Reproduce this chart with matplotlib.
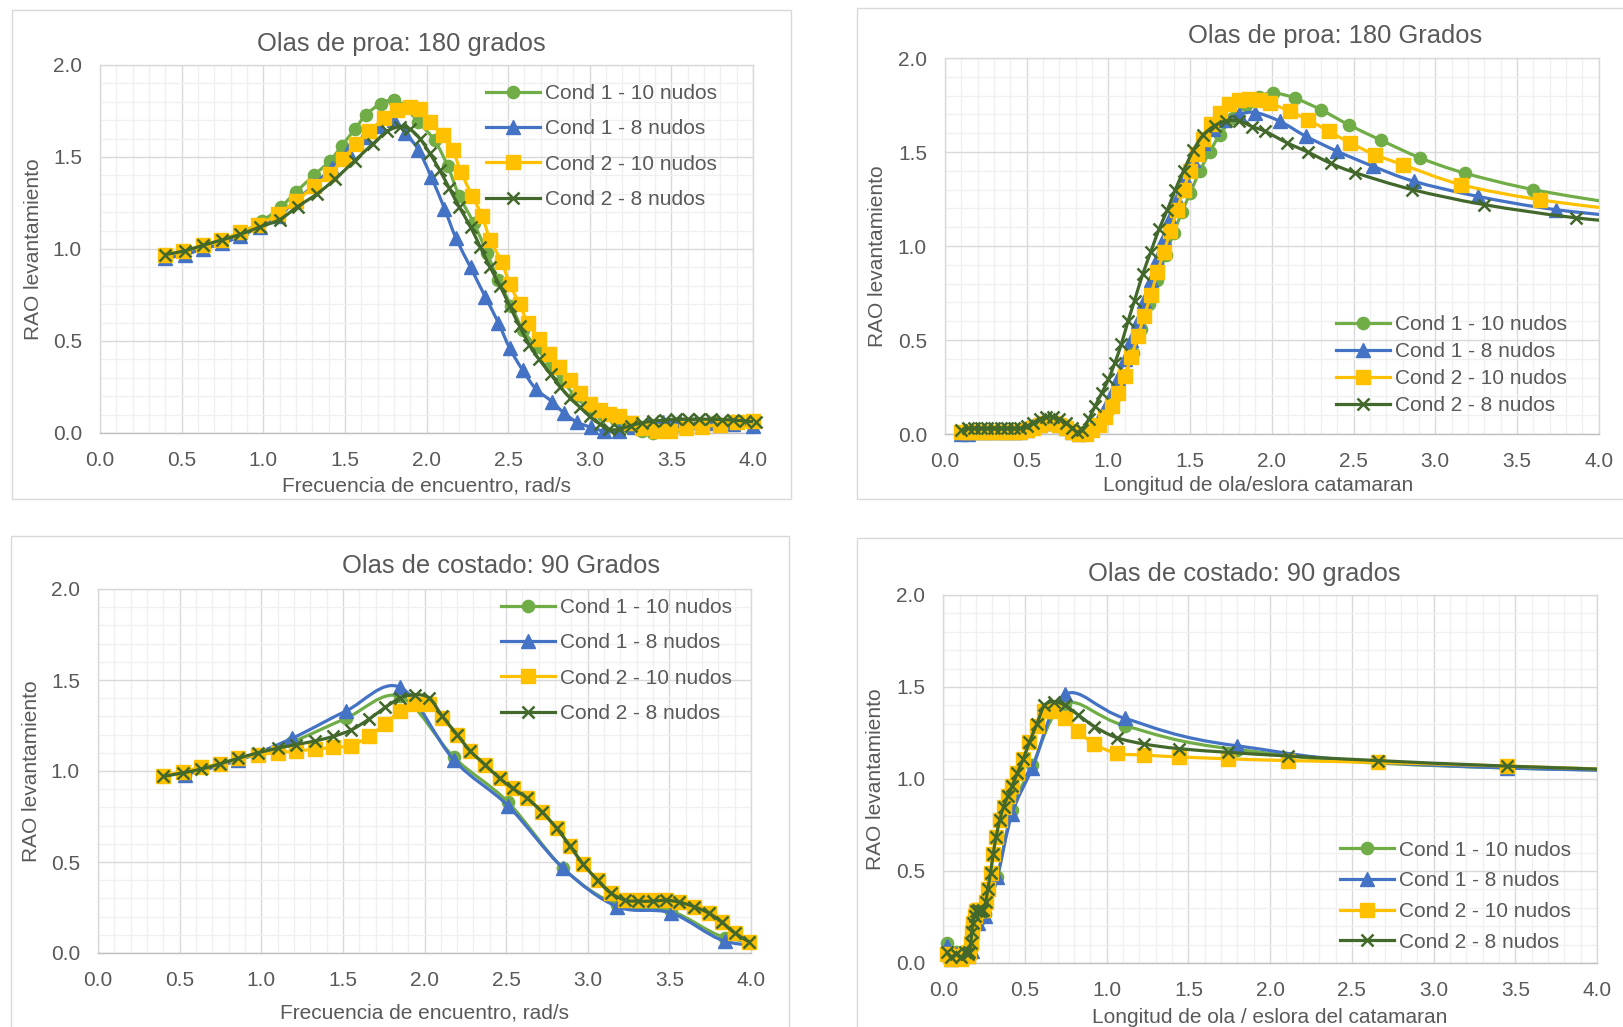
import numpy as np
import matplotlib
matplotlib.use("Agg")
import matplotlib.pyplot as plt
from matplotlib.path import Path
from matplotlib.patches import PathPatch, Rectangle
from matplotlib.lines import Line2D
from matplotlib.ticker import MultipleLocator, FormatStrFormatter

plt.rcParams['font.family'] = ['Liberation Sans', 'DejaVu Sans']

W, H = 1623, 1027

# ---------------- labels ----------------
series_labels = ["Cond 1 - 10 nudos", "Cond 1 - 8 nudos", "Cond 2 - 10 nudos", "Cond 2 - 8 nudos"]
series_colors = ["#70AD47", "#4472C4", "#FFC000", "#43682B"]
series_markers = ["o", "^", "s", "x"]
series_msize = [8.8, 9.5, 9.4, 8.4]

titles = ["Olas de proa: 180 grados", "Olas de proa: 180 Grados",
          "Olas de costado: 90 Grados", "Olas de costado: 90 grados"]
xlabels = ["Frecuencia de encuentro, rad/s", "Longitud de ola/eslora catamaran",
           "Frecuencia de encuentro, rad/s", "Longitud de ola / eslora del catamaran"]
ylabel_text = "RAO levantamiento"

# ---------------- Panel 1: head seas vs encounter frequency ----------------
p1_g_x = [0.40,0.52,0.64,0.75,0.87,0.99,1.11,1.20,1.31,1.41,1.48,1.56,1.63,1.72,1.80,1.87,1.95,2.05,2.13,2.20,
          2.29,2.37,2.44,2.52,2.59,2.67,2.76,2.83,2.91,3.00,3.08,3.16,3.24,3.32,3.39,3.47,3.56,3.66,3.76,3.88,4.00]
p1_g_y = [0.97,0.99,1.02,1.05,1.09,1.15,1.23,1.31,1.40,1.48,1.56,1.65,1.73,1.79,1.81,1.77,1.69,1.59,1.45,1.29,
          1.14,0.98,0.83,0.69,0.56,0.47,0.36,0.29,0.20,0.13,0.10,0.07,0.035,0.01,0.00,0.015,0.04,0.055,0.06,0.065,0.065]
p1_b_x = [0.40,0.52,0.63,0.75,0.86,0.98,1.09,1.20,1.31,1.42,1.52,1.62,1.71,1.80,1.87,1.95,2.03,2.11,2.18,2.27,
          2.36,2.44,2.51,2.59,2.67,2.77,2.84,2.92,3.01,3.09,3.18,3.27,3.36,3.45,3.55,3.65,3.76,3.88,4.00]
p1_b_y = [0.95,0.97,1.00,1.03,1.07,1.12,1.18,1.26,1.35,1.44,1.53,1.61,1.67,1.70,1.63,1.54,1.39,1.22,1.06,0.90,
          0.74,0.60,0.46,0.34,0.24,0.17,0.11,0.06,0.03,0.01,0.01,0.03,0.05,0.06,0.06,0.06,0.055,0.05,0.04]
p1_y_x = [0.40,0.51,0.63,0.74,0.86,0.97,1.09,1.20,1.31,1.41,1.49,1.57,1.65,1.74,1.82,1.90,1.96,2.02,2.10,2.16,
          2.21,2.28,2.34,2.39,2.46,2.51,2.57,2.62,2.69,2.75,2.81,2.88,2.94,3.00,3.06,3.12,3.18,3.25,3.32,3.41,
          3.49,3.59,3.69,3.80,3.90,4.00]
p1_y_y = [0.97,0.99,1.02,1.05,1.09,1.13,1.19,1.26,1.34,1.41,1.49,1.57,1.64,1.71,1.755,1.77,1.76,1.69,1.62,1.54,
          1.42,1.29,1.18,1.05,0.93,0.81,0.70,0.60,0.51,0.43,0.36,0.29,0.22,0.16,0.125,0.105,0.09,0.055,0.025,0.01,
          0.01,0.025,0.035,0.045,0.06,0.065]
p1_d_x = [0.40,0.52,0.63,0.75,0.86,0.98,1.10,1.21,1.33,1.44,1.56,1.67,1.76,1.84,1.90,1.96,2.02,2.08,2.14,2.20,
          2.27,2.33,2.39,2.45,2.51,2.57,2.63,2.69,2.76,2.82,2.88,2.94,3.00,3.06,3.12,3.18,3.25,3.32,3.39,3.46,
          3.53,3.60,3.67,3.74,3.81,3.88,3.95,4.02]
p1_d_y = [0.97,0.99,1.02,1.05,1.08,1.12,1.16,1.23,1.30,1.38,1.48,1.57,1.64,1.665,1.65,1.60,1.52,1.43,1.33,1.23,
          1.12,1.01,0.90,0.80,0.69,0.58,0.48,0.40,0.32,0.25,0.19,0.14,0.09,0.05,0.02,0.02,0.04,0.055,0.065,0.07,
          0.075,0.075,0.075,0.075,0.073,0.07,0.065,0.06]

# ---------------- Panel 2: head seas vs wavelength / length ----------------
p2_g_x = [0.10,0.14,0.18,0.22,0.26,0.30,0.34,0.38,0.42,0.46,0.50,0.54,0.58,0.62,0.66,0.70,0.74,0.78,
          0.82,0.86,0.90,0.95,1.00,1.05,1.10,1.15,1.20,1.25,1.30,1.35,1.40,1.45,1.50,1.56,1.62,1.68,1.76,1.84,
          1.92,2.01,2.14,2.30,2.47,2.67,2.91,3.18,3.60,4.15]
p2_g_y = [0.00,0.01,0.01,0.01,0.01,0.01,0.01,0.01,0.01,0.01,0.02,0.04,0.06,0.07,0.07,0.06,0.04,0.02,
          0.00,0.00,0.02,0.06,0.13,0.21,0.31,0.43,0.56,0.69,0.82,0.95,1.07,1.18,1.28,1.40,1.50,1.59,1.68,1.75,
          1.795,1.814,1.787,1.725,1.645,1.562,1.468,1.388,1.30,1.22]
p2_b_x = [0.10,0.14,0.18,0.22,0.26,0.30,0.34,0.38,0.42,0.46,0.50,0.54,0.58,0.62,0.66,0.70,0.74,0.78,
          0.82,0.86,0.90,0.94,0.98,1.02,1.06,1.10,1.14,1.18,1.22,1.26,1.30,1.34,1.38,1.42,1.47,1.52,1.58,1.64,
          1.71,1.80,1.90,2.05,2.21,2.40,2.62,2.87,3.26,3.74,4.35]
p2_b_y = [0.00,0.00,0.01,0.01,0.01,0.01,0.01,0.01,0.01,0.01,0.02,0.04,0.05,0.06,0.06,0.05,0.03,0.01,
          0.00,0.01,0.04,0.08,0.14,0.22,0.30,0.40,0.50,0.60,0.71,0.82,0.93,1.04,1.15,1.25,1.36,1.46,1.55,1.62,
          1.67,1.70,1.71,1.663,1.583,1.504,1.424,1.344,1.264,1.193,1.14]
p2_y_x = [0.10,0.14,0.18,0.22,0.26,0.30,0.34,0.38,0.42,0.46,0.50,0.54,0.58,0.62,0.66,0.70,0.74,0.78,
          0.82,0.86,0.90,0.94,0.98,1.02,1.06,1.10,1.14,1.18,1.22,1.26,1.30,1.34,1.38,1.42,1.46,1.50,1.54,1.58,
          1.63,1.68,1.74,1.80,1.86,1.93,1.99,2.11,2.22,2.35,2.48,2.63,2.80,3.16,3.64,4.25]
p2_y_y = [0.01,0.01,0.01,0.01,0.01,0.01,0.01,0.01,0.01,0.01,0.02,0.03,0.05,0.06,0.06,0.05,0.03,0.01,
          0.00,0.00,0.02,0.05,0.09,0.15,0.22,0.31,0.41,0.52,0.63,0.74,0.86,0.97,1.08,1.19,1.30,1.40,1.49,1.57,
          1.65,1.71,1.755,1.775,1.78,1.775,1.76,1.716,1.672,1.61,1.548,1.486,1.433,1.326,1.246,1.18]
p2_d_x = [0.10,0.14,0.18,0.22,0.26,0.30,0.34,0.38,0.42,0.46,0.50,0.54,0.58,0.62,0.66,0.70,0.74,0.78,
          0.81,0.84,0.88,0.92,0.96,1.00,1.04,1.08,1.12,1.16,1.21,1.26,1.31,1.36,1.41,1.46,1.52,1.58,1.65,1.72,
          1.80,1.88,1.96,2.09,2.22,2.36,2.51,2.86,3.30,3.86,4.50]
p2_d_y = [0.02,0.03,0.03,0.03,0.03,0.03,0.03,0.03,0.03,0.03,0.04,0.06,0.08,0.09,0.09,0.08,0.06,0.03,
          0.01,0.02,0.08,0.15,0.22,0.29,0.38,0.48,0.60,0.71,0.85,0.97,1.09,1.19,1.30,1.40,1.51,1.59,1.64,1.665,
          1.665,1.635,1.61,1.55,1.50,1.44,1.39,1.30,1.22,1.15,1.10]

# ---------------- Panel 3: beam seas vs frequency ----------------
p3_c1_x = [0.53,0.86,1.19,1.52,1.85,2.18,2.51,2.85,3.18,3.51,3.84,4.17]
p3_g_y = [0.98,1.06,1.16,1.29,1.41,1.075,0.83,0.465,0.265,0.23,0.085,0.06]
p3_b_y = [0.98,1.06,1.18,1.33,1.46,1.06,0.81,0.465,0.255,0.22,0.065,0.04]
p3_c2_x = [0.40,0.52,0.63,0.75,0.86,0.98,1.10,1.21,1.33,1.44,1.55,1.66,1.76,1.85,1.94,2.03,2.11,2.20,2.28,2.37,
           2.46,2.54,2.63,2.72,2.81,2.89,2.97,3.06,3.14,3.23,3.31,3.40,3.48,3.56,3.65,3.74,3.82,3.90,3.99]
p3_y_y = [0.975,0.995,1.02,1.04,1.07,1.09,1.10,1.11,1.12,1.13,1.14,1.19,1.26,1.33,1.37,1.37,1.29,1.20,1.11,1.035,
          0.96,0.905,0.85,0.775,0.685,0.59,0.49,0.40,0.33,0.29,0.29,0.29,0.29,0.28,0.255,0.22,0.17,0.11,0.06]
p3_d_y = [0.97,0.99,1.01,1.04,1.07,1.10,1.125,1.145,1.165,1.19,1.225,1.285,1.35,1.40,1.42,1.40,1.30,1.20,1.11,1.035,
          0.96,0.905,0.85,0.775,0.685,0.59,0.49,0.40,0.33,0.29,0.285,0.285,0.29,0.28,0.255,0.22,0.17,0.11,0.06]

# ---------------- Panel 4: beam seas vs wavelength / length ----------------
p4_c1_x = [0.02,0.05,0.08,0.11,0.15,0.175,0.21,0.255,0.33,0.42,0.545,0.745,1.11,1.80,3.45,9.10]
p4_g_y = [0.11,0.03,0.06,0.04,0.06,0.085,0.23,0.265,0.465,0.83,1.075,1.41,1.29,1.16,1.06,0.98]
p4_b_y = [0.09,0.02,0.05,0.03,0.04,0.065,0.22,0.255,0.465,0.81,1.06,1.46,1.33,1.18,1.06,0.98]
p4_c2_x = [0.02,0.05,0.08,0.11,0.135,0.150,0.160,0.168,0.175,0.182,0.191,0.201,0.211,0.221,0.233,0.244,0.259,
           0.272,0.289,0.305,0.323,0.345,0.369,0.395,0.421,0.454,0.490,0.527,0.573,0.619,0.678,0.745,0.823,
           0.925,1.06,1.23,1.44,1.74,2.11,2.66,3.45,4.53]
p4_y_y = [0.05,0.02,0.04,0.02,0.05,0.04,0.06,0.11,0.17,0.22,0.255,0.28,0.29,0.29,0.29,0.29,0.33,
          0.40,0.49,0.59,0.685,0.775,0.85,0.905,0.96,1.035,1.11,1.20,1.29,1.37,1.37,1.33,1.26,
          1.19,1.14,1.13,1.12,1.11,1.10,1.09,1.07,1.04]
p4_d_y = [0.06,0.03,0.05,0.03,0.06,0.05,0.06,0.11,0.17,0.22,0.255,0.28,0.29,0.285,0.285,0.29,0.33,
          0.40,0.49,0.59,0.685,0.775,0.85,0.905,0.96,1.035,1.11,1.20,1.30,1.40,1.42,1.40,1.35,
          1.285,1.225,1.19,1.165,1.145,1.125,1.10,1.07,1.04]

panels = [
    [(p1_g_x, p1_g_y), (p1_b_x, p1_b_y), (p1_y_x, p1_y_y), (p1_d_x, p1_d_y)],
    [(p2_g_x, p2_g_y), (p2_b_x, p2_b_y), (p2_y_x, p2_y_y), (p2_d_x, p2_d_y)],
    [(p3_c1_x, p3_g_y), (p3_c1_x, p3_b_y), (p3_c2_x, p3_y_y), (p3_c2_x, p3_d_y)],
    [(p4_c1_x, p4_g_y), (p4_c1_x, p4_b_y), (p4_c2_x, p4_y_y), (p4_c2_x, p4_d_y)],
]

# ---------------- layout (pixel positions) ----------------
layout = [
    dict(ax=(100, 65, 753, 433), frame=(12, 10, 791, 499), title=(401, 43.5),
         xl=(0.5, -0.143), yl=(-0.1026, 0.5), leg=(486, 146.5), lsp=0.79),
    dict(ax=(945, 58, 1598.6, 434), frame=(857, 8, 1630, 499), title=(1335, 36),
         xl=(0.479, -0.138), yl=(-0.103, 0.473), leg=(1336, 365), lsp=0.38),
    dict(ax=(98, 589, 751, 953), frame=(10.5, 536, 789, 1035), title=(500.5, 566),
         xl=(0.5, -0.164), yl=(-0.1026, 0.5), leg=(501, 660.5), lsp=0.79),
    dict(ax=(943.3, 595, 1597, 963), frame=(857, 538, 1630, 1035), title=(1244.5, 574.5),
         xl=(0.5, -0.148), yl=(-0.1034, 0.5), leg=(1340, 896), lsp=0.56),
]

TXT = "#595959"


def smooth_path(x, y):
    P = np.column_stack([np.asarray(x, float), np.asarray(y, float)])
    n = len(P)
    verts = [P[0]]
    codes = [Path.MOVETO]
    for i in range(n - 1):
        p0 = P[i - 1] if i > 0 else P[i]
        p1 = P[i]
        p2 = P[i + 1]
        p3 = P[i + 2] if i + 2 < n else P[i + 1]
        verts += [p1 + (p2 - p0) / 6.0, p2 - (p3 - p1) / 6.0, p2]
        codes += [Path.CURVE4] * 3
    return Path(verts, codes)


fig = plt.figure(figsize=(W / 100, H / 100), dpi=100)

for k, (lay, data) in enumerate(zip(layout, panels)):
    fl, ft, fr, fb = lay["frame"]
    fig.add_artist(Rectangle((fl / W, 1 - fb / H), (fr - fl) / W, (fb - ft) / H,
                             transform=fig.transFigure, fill=False, ec="#D9D9D9", lw=1.0))
    l, t, r, b = lay["ax"]
    ax = fig.add_axes([l / W, 1 - b / H, (r - l) / W, (b - t) / H])
    ax.set_xlim(0, 4)
    ax.set_ylim(0, 2)
    ax.xaxis.set_major_locator(MultipleLocator(0.5))
    ax.xaxis.set_minor_locator(MultipleLocator(0.1))
    ax.yaxis.set_major_locator(MultipleLocator(0.5))
    ax.yaxis.set_minor_locator(MultipleLocator(0.1))
    ax.xaxis.set_major_formatter(FormatStrFormatter("%.1f"))
    ax.yaxis.set_major_formatter(FormatStrFormatter("%.1f"))
    ax.grid(which="minor", color="#F0F0F0", lw=1.0)
    ax.grid(which="major", color="#D9D9D9", lw=1.0)
    ax.set_axisbelow(True)
    ax.tick_params(which="both", length=0)
    ax.tick_params(axis="x", labelsize=15, labelcolor=TXT, pad=13)
    ax.tick_params(axis="y", labelsize=15, labelcolor=TXT, pad=13)
    for s in ax.spines.values():
        s.set_color("#D9D9D9")
        s.set_linewidth(1.0)
    ax.spines["bottom"].set_color("#BFBFBF")

    handles = []
    for j, (xs, ys) in enumerate(data):
        c = series_colors[j]
        z = 3 + j
        ax.add_patch(PathPatch(smooth_path(xs, ys), fill=False, ec=c, lw=2.3,
                               capstyle="round", joinstyle="round", zorder=z))
        xa = np.asarray(xs, float)
        ya = np.asarray(ys, float)
        m = (xa >= 0) & (xa <= 4.02)
        if series_markers[j] == "x":
            ax.plot(xa[m], ya[m], ls="none", marker="x", ms=series_msize[j], mew=1.8,
                    color=c, clip_on=False, zorder=z + 0.5)
        else:
            ax.plot(xa[m], ya[m], ls="none", marker=series_markers[j], ms=series_msize[j],
                    mfc=c, mec=c, color=c, clip_on=False, zorder=z + 0.5)
        handles.append(Line2D([], [], color=c, lw=2.3, marker=series_markers[j],
                              ms=series_msize[j], mew=1.8 if series_markers[j] == "x" else 1.0))

    ax.set_xlabel(xlabels[k], fontsize=15, color=TXT)
    ax.set_ylabel(ylabel_text, fontsize=15, color=TXT)
    ax.xaxis.label.set_va("center")
    ax.yaxis.label.set_va("center")
    ax.yaxis.label.set_ha("center")
    ax.xaxis.set_label_coords(*lay["xl"])
    ax.yaxis.set_label_coords(*lay["yl"])

    tx, ty = lay["title"]
    fig.text(tx / W, 1 - ty / H, titles[k], ha="center", va="center", fontsize=18.4, color=TXT)

    lx, ly = lay["leg"]
    ax.legend(handles, series_labels, loc="center left", bbox_to_anchor=(lx / W, 1 - ly / H),
              bbox_transform=fig.transFigure, frameon=False, fontsize=15, labelcolor=TXT,
              handlelength=2.6, handletextpad=0.24, labelspacing=lay["lsp"], borderpad=0,
              borderaxespad=0, numpoints=1)

fig.savefig("out.png", dpi=100, facecolor="white")
